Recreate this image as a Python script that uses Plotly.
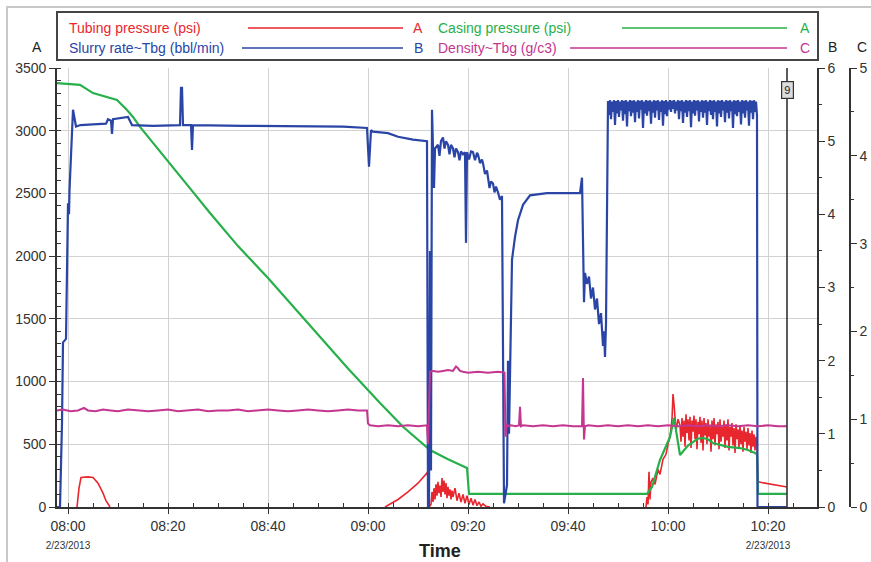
import pandas as pd
import plotly.graph_objects as go

# ---------------- data (minutes after 08:00 on 2/23/2013) ----------------
BASE_TIME = "2013-02-23 08:00:00"
X_RANGE_MIN = [-2.2, 149.8]
CURSOR_MIN = 143.8
CURSOR_LABEL = "9"

TICK_MIN = [0, 20, 40, 60, 80, 100, 120, 140]
TICK_TEXT = ["08:00", "08:20", "08:40", "09:00", "09:20", "09:40", "10:00", "10:20"]
TICK_DATE = ["2/23/2013", "", "", "", "", "", "", "2/23/2013"]

# Slurry rate~Tbg (bbl/min)  -> axis B
RATE_M = [-2.2, -1.6, -1.2, -1.0, -0.6, -0.4, 0.0, 0.2, 0.3, 1.0,
          1.6, 2.5, 5.0, 7.6, 8.0, 8.6, 8.8, 9.0, 12.0, 12.8,
          17.0, 22.4, 22.6, 22.8, 23.0, 24.6, 24.8, 25.0, 35.0, 45.0,
          55.0, 59.8, 60.2, 60.6, 61.0, 64.0, 66.0, 69.0, 71.8, 72.0,
          72.2, 72.4, 72.6, 72.8, 73.0, 73.2, 73.4,
          74.0, 74.3, 74.6, 75.0, 75.3, 75.6, 76.0, 76.3, 76.6, 77.0,
          77.3, 77.6, 78.0, 78.3, 78.6, 79.0, 79.4, 79.6, 79.8, 80.2,
          80.6, 81.0, 81.4, 81.8, 82.0, 82.4, 82.8, 83.0, 83.4, 83.8,
          84.0, 84.3, 84.6, 85.0, 85.3, 85.6, 86.0, 86.4, 86.8,
          87.0, 87.2, 87.8, 88.0, 88.2, 88.8,
          89.4, 90.0, 91.0, 92.4, 95.8, 102.4, 102.8, 103.0, 103.2, 103.4,
          103.8, 104.2, 104.6, 105.0, 105.4, 105.8, 106.2, 106.6, 107.0, 107.2,
          107.4, 107.6]
RATE_V = [0, 0, 1.15, 2.25, 2.28, 2.3, 4.15, 4.0, 4.33, 5.43,
          5.2, 5.22, 5.23, 5.24, 5.30, 5.28, 5.1, 5.3, 5.33, 5.22,
          5.21, 5.22, 5.73, 5.73, 5.22, 5.22, 4.88, 5.22, 5.21, 5.2,
          5.2, 5.18, 4.65, 5.15, 5.13, 5.11, 5.06, 5.02, 5.0, 0.0,
          0.0, 3.5, 0.5, 5.43, 4.6, 4.36, 4.9,
          4.95, 4.8, 5.0, 5.05, 4.9, 5.0, 4.95, 4.82, 4.95, 4.9,
          4.78, 4.9, 4.85, 4.74, 4.86, 4.82, 4.85, 3.61, 4.85, 4.75,
          4.86, 4.85, 4.74, 4.84, 4.82, 4.7, 4.75, 4.7, 4.55, 4.6,
          4.5, 4.36, 4.45, 4.42, 4.3, 4.38, 4.3, 4.2, 4.25,
          1.0, 0.05, 0.3, 2.0, 1.0, 3.38,
          3.69, 3.92, 4.13, 4.26, 4.29, 4.29, 4.5, 3.25, 2.8, 3.2,
          3.05, 3.15, 2.85, 3.0, 2.7, 2.85, 2.5, 2.65, 2.2, 2.4,
          2.05, 2.5]
# regularly logged plateau, 09:48 onwards, one reading every 0.2 min
RATE_PLATEAU_START = 108.0
RATE_PLATEAU_STEP = 0.2
RATE_PLATEAU_V = [
    5.55, 5.36, 5.56, 5.30, 5.54, 5.40, 5.56, 5.22, 5.55, 5.38, 5.56, 5.33, 5.54, 5.42, 5.56,
    5.28, 5.55, 5.37, 5.56, 5.20, 5.54, 5.41, 5.56, 5.34, 5.55, 5.39, 5.56, 5.26, 5.54, 5.40,
    5.56, 5.31, 5.55, 5.43, 5.56, 5.18, 5.54, 5.38, 5.56, 5.35, 5.55, 5.41, 5.56, 5.24, 5.54,
    5.39, 5.56, 5.32, 5.55, 5.42, 5.56, 5.29, 5.54, 5.40, 5.56, 5.21, 5.55, 5.37, 5.56, 5.34,
    5.54, 5.43, 5.56, 5.40, 5.55, 5.44, 5.56, 5.38, 5.54, 5.42, 5.56, 5.30, 5.55, 5.41, 5.56,
    5.25, 5.54, 5.39, 5.56, 5.33, 5.55, 5.41, 5.56, 5.19, 5.54, 5.38, 5.56, 5.35, 5.55, 5.42,
    5.56, 5.27, 5.54, 5.40, 5.56, 5.32, 5.55, 5.39, 5.56, 5.22, 5.54, 5.41, 5.56, 5.36, 5.55,
    5.30, 5.56, 5.40, 5.54, 5.20, 5.56, 5.38, 5.55, 5.33, 5.56, 5.42, 5.54, 5.26, 5.56, 5.39,
    5.55, 5.31, 5.56, 5.41, 5.54, 5.18, 5.56, 5.37, 5.55, 5.34, 5.56, 5.40, 5.54, 5.23, 5.56,
    5.38, 5.55, 5.32, 5.56, 5.42, 5.54, 5.21, 5.56, 5.39, 5.55, 5.30, 5.56, 5.40, 5.54, 5.35]
RATE_TAIL_M = [137.9, 143.8]
RATE_TAIL_V = [0.0, 0.0]

# Casing pressure (psi) -> axis A
CASING_M = [-2.2, 0.0, 2.4, 5.0, 7.5, 9.8, 11.8, 13.0, 14.4, 20.0,
            24.0, 28.4, 34.0, 40.0, 45.0, 50.0, 56.0, 62.4, 67.0, 72.4,
            76.0, 79.8, 80.0, 80.2, 100.0, 115.8, 116.8, 118.4, 120.4, 121.2,
            122.4, 123.0, 124.0, 125.0, 126.0, 127.0, 128.0, 129.0, 130.4, 132.0,
            134.4, 136.0, 137.4, 137.8, 138.0, 143.8]
CASING_V = [3380, 3375, 3365, 3300, 3270, 3245, 3165, 3110, 3030, 2760,
            2560, 2344, 2080, 1826, 1600, 1379, 1105, 829, 640, 454,
            380, 311, 150, 105, 105, 105, 160, 375, 558, 710,
            415, 440, 490, 518, 545, 550, 540, 510, 494, 480,
            470, 455, 430, 420, 105, 105]

# Tubing pressure (psi) -> axis A  (None = stretch lying on the zero line, not drawn)
TUBING_M = [-2.2, 1.8, 2.2, 2.6, 4.0, 5.0, 6.0, 7.0, 7.6, 8.4,
            36.0,
            63.4, 66.0, 68.0, 70.0, 72.0, 72.2,
            72.6, 72.8, 73.0, 73.2, 73.4, 73.6, 73.8, 74.0, 74.2, 74.4, 74.6, 74.8,
            75.0, 75.2, 75.4, 75.6, 75.8, 76.0, 76.2, 76.4, 76.6, 76.8, 77.0,
            77.4, 77.8, 78.2, 78.6, 79.0, 79.4, 79.8, 80.2, 80.6, 81.0, 81.4, 81.8,
            82.2, 82.6, 83.0, 83.6, 84.4,
            100.0,
            115.6, 115.8, 116.0, 116.2, 116.4, 116.6, 117.0, 117.4, 118.0, 118.4,
            119.0, 119.6, 120.0, 120.4, 120.8, 121.0, 121.2, 121.6, 122.0]
TUBING_V = [None, 0, 150, 235, 240, 235, 190, 110, 50, 0,
            None,
            0, 60, 120, 190, 280, 0,
            20, 120, 40, 150, 60, 180, 90, 200, 110, 170, 80, 230,
            120, 210, 100, 190, 70, 160, 90, 140, 60, 130, 80,
            150, 50, 110, 40, 100, 30, 90, 20, 70, 15, 60, 10,
            40, 5, 25, 5, 0,
            None,
            0, 80, 20, 280, 60, 200, 230, 180, 300, 260,
            380, 420, 500, 560, 700, 900, 820, 610, 700]
TUBING_NOISE_START = 122.4
TUBING_NOISE_STEP = 0.2
TUBING_NOISE_V = [
    650, 520, 710, 560, 690, 480, 740, 590, 700, 530, 720, 470, 690, 600, 730,
    540, 700, 460, 680, 580, 720, 510, 690, 450, 710, 570, 670, 500, 700, 560,
    650, 440, 690, 540, 710, 490, 660, 580, 680, 460, 700, 520, 640, 560, 690,
    470, 660, 530, 700, 450, 640, 560, 670, 490, 630, 430, 660, 540, 620, 470,
    650, 500, 610, 440, 640, 520, 600, 460, 630, 490, 590, 430, 610, 480, 580,
    450, 560]
TUBING_TAIL_M = [137.8, 138.0, 143.8]
TUBING_TAIL_V = [480, 200, 160]

# Density~Tbg (g/c3) -> axis C
DENS_M = [-2.2, -1.0, 0.5, 2.0, 3.2, 4.0, 5.5, 7.0, 8.5, 10.0,
          12, 14, 16, 18, 20, 22, 24, 26, 28, 30, 32, 34, 36, 38, 40, 42, 44, 46, 48, 50, 52, 54, 56, 58,
          59.8, 60.0, 60.4,
          62, 64, 66, 68, 70,
          71.8, 72.0, 72.2, 72.4,
          73, 74, 75, 76, 77,
          77.6, 78.0, 78.4,
          79, 80, 82, 84, 86,
          87.3, 87.5, 87.7, 88.0, 88.6, 89.5,
          90.2, 90.4, 90.6,
          91, 93, 95, 97, 99, 101,
          102.8, 103.0, 103.2, 103.4,
          104, 106, 108, 110, 112, 114, 116, 118, 120, 122, 124, 126, 128, 130, 132, 134, 136, 138, 140, 142,
          143.8]
DENS_V = [1.10, 1.11, 1.09, 1.10, 1.13, 1.10, 1.09, 1.11, 1.10, 1.09,
          1.11, 1.10, 1.09, 1.10, 1.11, 1.09, 1.10, 1.11, 1.09, 1.10, 1.10, 1.11, 1.09, 1.10, 1.11, 1.10,
          1.09, 1.10, 1.11, 1.10, 1.09, 1.10, 1.11, 1.10,
          1.10, 0.95, 0.93,
          0.92, 0.93, 0.92, 0.93, 0.92,
          0.93, 0.72, 1.20, 1.54,
          1.55, 1.54, 1.55, 1.56, 1.55,
          1.60, 1.58, 1.55,
          1.54, 1.53, 1.54, 1.53, 1.54,
          1.53, 0.80, 0.95, 0.92, 0.93, 0.92,
          0.93, 1.14, 0.92,
          0.93, 0.92, 0.93, 0.92, 0.93, 0.92,
          0.92, 1.47, 0.77, 0.92,
          0.93, 0.92, 0.93, 0.92, 0.93, 0.92, 0.93, 0.92, 0.93, 0.92, 0.93, 0.92, 0.93, 0.92, 0.93,
          0.92, 0.93, 0.92, 0.93, 0.92,
          0.92]

# ---------------- styling ----------------
RED, GREEN, BLUE, MAGENTA = "#e8262d", "#27b04a", "#2a45a6", "#c4368f"
DARK = "#333333"
GRID = "#d2d2d2"
FONT = "Liberation Sans, Arial, sans-serif"

base = pd.Timestamp(BASE_TIME)


def to_time(mins):
    return [base + pd.Timedelta(minutes=float(m)) for m in mins]


def regular(start, step, n):
    return [start + i * step for i in range(n)]


rate_m = RATE_M + regular(RATE_PLATEAU_START, RATE_PLATEAU_STEP, len(RATE_PLATEAU_V)) + RATE_TAIL_M
rate_v = RATE_V + RATE_PLATEAU_V + RATE_TAIL_V
tub_m = TUBING_M + regular(TUBING_NOISE_START, TUBING_NOISE_STEP, len(TUBING_NOISE_V)) + TUBING_TAIL_M
tub_v = TUBING_V + TUBING_NOISE_V + TUBING_TAIL_V

fig = go.Figure()
fig.add_trace(go.Scatter(x=to_time(rate_m), y=rate_v, yaxis="y2", mode="lines",
                         line=dict(color=BLUE, width=2.2), name="Slurry rate~Tbg (bbl/min)"))
fig.add_trace(go.Scatter(x=to_time(tub_m), y=tub_v, yaxis="y", mode="lines", connectgaps=False,
                         line=dict(color=RED, width=1.6), name="Tubing pressure (psi)"))
fig.add_trace(go.Scatter(x=to_time(CASING_M), y=CASING_V, yaxis="y", mode="lines",
                         line=dict(color=GREEN, width=2.2), name="Casing pressure (psi)"))
fig.add_trace(go.Scatter(x=to_time(DENS_M), y=DENS_V, yaxis="y3", mode="lines",
                         line=dict(color=MAGENTA, width=2), name="Density~Tbg (g/c3)"))

# geometry helpers (pixel -> paper)
L, R, T, B = 57, 21, 68, 55
W, H = 871, 562
PW, PH = W - L - R, H - T - B


def px(xp):
    return (xp - L) / PW


def py(yp):
    return (H - B - yp) / PH


ticktext = [t if d == "" else f"{t}<br><span style='font-size:10px'>{d}</span>"
            for t, d in zip(TICK_TEXT, TICK_DATE)]

fig.update_layout(
    width=W, height=H,
    margin=dict(l=L, r=R, t=T, b=B, autoexpand=False),
    paper_bgcolor="white", plot_bgcolor="white",
    font=dict(family=FONT, size=14, color=DARK),
    showlegend=False,
    xaxis=dict(type="date", domain=[0, px(817)], automargin=False,
               range=to_time(X_RANGE_MIN),
               tickmode="array", tickvals=to_time(TICK_MIN), ticktext=ticktext,
               showgrid=True, gridcolor=GRID, gridwidth=1,
               showline=True, linecolor=DARK, linewidth=1.6,
               ticks="outside", ticklen=5, tickcolor=DARK,
               minor=dict(tickmode="linear", tick0=base, dtick=5 * 60 * 1000,
                          ticks="inside", ticklen=4, tickcolor=DARK, showgrid=False),
               zeroline=False, layer="above traces"),
    yaxis=dict(range=[0, 3500], dtick=500, showgrid=True, gridcolor=GRID, automargin=False,
               showline=True, linecolor=DARK, linewidth=1.6,
               ticks="outside", ticklen=6, tickcolor=DARK,
               minor=dict(dtick=100, ticks="inside", ticklen=4, tickcolor=DARK),
               zeroline=False, layer="above traces"),
    yaxis2=dict(range=[0, 6], dtick=1, overlaying="y", side="right", anchor="x", automargin=False,
                showgrid=False, showline=True, linecolor=DARK, linewidth=1.6,
                ticks="outside", ticklen=6, tickcolor=DARK,
                minor=dict(dtick=0.5, ticks="outside", ticklen=3, tickcolor=DARK),
                zeroline=False),
    yaxis3=dict(range=[0, 5], dtick=1, overlaying="y", side="right", anchor="free", automargin=False,
                position=1.0, showgrid=False, showline=True, linecolor=DARK, linewidth=1.6,
                ticks="outside", ticklen=6, tickcolor=DARK,
                minor=dict(dtick=0.5, ticks="outside", ticklen=3, tickcolor=DARK),
                zeroline=False),
)

shapes = []
annotations = []

# outer light frame
shapes.append(dict(type="rect", xref="paper", yref="paper", x0=px(7), x1=px(900), y0=py(600), y1=py(7),
                   line=dict(color="#c8c8c8", width=2), layer="below"))
# legend box
shapes.append(dict(type="rect", xref="paper", yref="paper", x0=px(57), x1=px(818), y0=py(60), y1=py(12),
                   line=dict(color="#444444", width=2), fillcolor="white"))

legend_items = [
    ("Tubing pressure (psi)", RED, 67, 248, 403, 418, 28, "A"),
    ("Slurry rate~Tbg (bbl/min)", BLUE, 67, 242, 403, 418, 48, "B"),
    ("Casing pressure (psi)", GREEN, 436, 622, 787, 805, 28, "A"),
    ("Density~Tbg (g/c3)", MAGENTA, 436, 570, 787, 805, 48, "C"),
]
for label, col, tx, lx0, lx1, ax, yy, letter in legend_items:
    annotations.append(dict(xref="paper", yref="paper", x=px(tx), y=py(yy), text=label,
                            showarrow=False, xanchor="left", yanchor="middle",
                            font=dict(color=col, size=14)))
    shapes.append(dict(type="line", xref="paper", yref="paper", x0=px(lx0), x1=px(lx1),
                       y0=py(yy), y1=py(yy), line=dict(color=col, width=1.6)))
    annotations.append(dict(xref="paper", yref="paper", x=px(ax), y=py(yy), text=letter,
                            showarrow=False, xanchor="center", yanchor="middle",
                            font=dict(color=col, size=14)))

# axis letters
for letter, xx in [("A", 37), ("B", 832), ("C", 862)]:
    annotations.append(dict(xref="paper", yref="paper", x=px(xx), y=py(47), text=letter,
                            showarrow=False, xanchor="center", yanchor="middle",
                            font=dict(color="#222222", size=14)))

# axis title
annotations.append(dict(xref="paper", yref="paper", x=px(440), y=py(551), text="<b>Time</b>",
                        showarrow=False, xanchor="center", yanchor="middle",
                        font=dict(color="#222222", size=18)))

# cursor line and label
cursor_t = to_time([CURSOR_MIN])[0]
shapes.append(dict(type="line", xref="x", yref="paper", x0=cursor_t, x1=cursor_t, y0=0, y1=1,
                   line=dict(color=DARK, width=1.6)))
annotations.append(dict(xref="x", yref="paper", x=cursor_t, y=py(90), text=CURSOR_LABEL,
                        showarrow=False, xanchor="center", yanchor="middle",
                        bgcolor="#dcdcdc", bordercolor=DARK, borderwidth=1.2, borderpad=2,
                        font=dict(color="#222222", size=11)))

fig.update_layout(shapes=shapes, annotations=annotations)
fig.write_html("out.html")
